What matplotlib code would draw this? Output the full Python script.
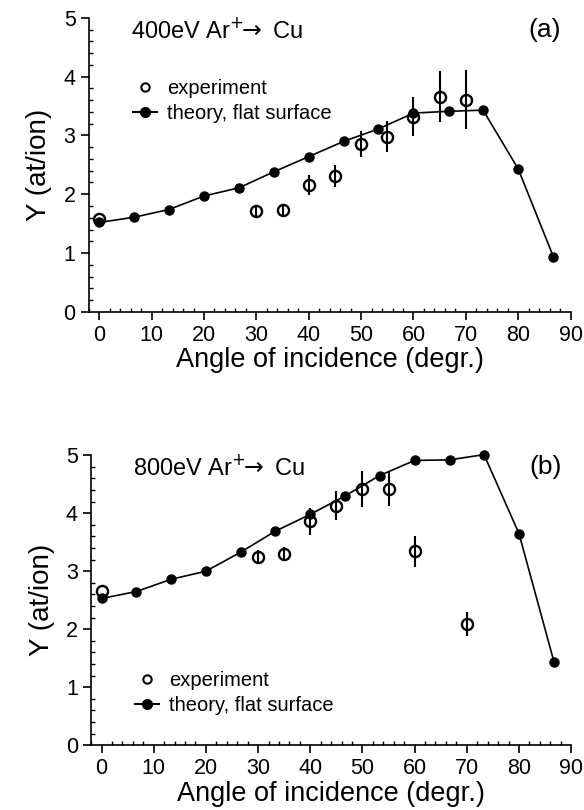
import matplotlib
matplotlib.use("Agg")
import matplotlib.pyplot as plt
from matplotlib.lines import Line2D
from matplotlib.ticker import MultipleLocator

plt.rcParams['font.family'] = ['Liberation Sans', 'DejaVu Sans']
plt.rcParams['mathtext.fontset'] = 'dejavusans'

# theory, flat surface (same angles for both energies)
theory_angle = [0, 6.7, 13.3, 20, 26.7, 33.3, 40, 46.7, 53.3, 60, 66.7, 73.3, 80, 86.7]
theory_400 = [1.52, 1.61, 1.74, 1.97, 2.11, 2.38, 2.64, 2.90, 3.11, 3.38, 3.41, 3.43, 2.43, 0.94]
theory_800 = [2.53, 2.65, 2.86, 3.00, 3.33, 3.69, 3.98, 4.30, 4.65, 4.91, 4.92, 5.01, 3.65, 1.44]

# experiment
exp_angle_400 = [0, 30, 35, 40, 45, 50, 55, 60, 65, 70]
exp_400 = [1.58, 1.72, 1.74, 2.15, 2.31, 2.85, 2.98, 3.32, 3.66, 3.61]
err_400 = [0, 0.10, 0.10, 0.17, 0.18, 0.22, 0.26, 0.33, 0.44, 0.50]

exp_angle_800 = [0, 30, 35, 40, 45, 50, 55, 60, 70]
exp_800 = [2.66, 3.25, 3.30, 3.86, 4.13, 4.42, 4.42, 3.34, 2.09]
err_800 = [0, 0.12, 0.12, 0.23, 0.25, 0.31, 0.30, 0.27, 0.20]

fig = plt.figure(figsize=(5.84, 8.10), dpi=100)
ax_a = fig.add_axes([0.152, 0.615, 0.825, 0.363])
ax_b = fig.add_axes([0.156, 0.080, 0.822, 0.358])

panels = [
    (ax_a, theory_400, exp_angle_400, exp_400, err_400, r"400eV Ar$^{+}\!\!\rightarrow$ Cu", "(a)", 0.82),
    (ax_b, theory_800, exp_angle_800, exp_800, err_800, r"800eV Ar$^{+}\!\!\rightarrow$ Cu", "(b)", 0.285),
]

for ax, theo, ex_x, ex_y, ex_err, title, tag, leg_y in panels:
    ax.plot(theory_angle, theo, color='black', lw=1.2, marker='o', ms=6.5,
            mfc='black', mec='black', clip_on=False, zorder=3)
    ax.errorbar(ex_x, ex_y, yerr=ex_err, fmt='o', ms=8, mfc='none', mec='black',
                mew=1.7, ecolor='black', elinewidth=1.5, capsize=0, clip_on=False, zorder=4)

    ax.set_xlim(-2, 90)
    ax.set_ylim(0, 5)
    ax.spines['top'].set_visible(False)
    ax.spines['right'].set_visible(False)
    ax.spines['left'].set_linewidth(1.2)
    ax.spines['bottom'].set_linewidth(1.2)
    ax.xaxis.set_major_locator(MultipleLocator(10))
    ax.xaxis.set_minor_locator(MultipleLocator(2))
    ax.yaxis.set_major_locator(MultipleLocator(1))
    ax.yaxis.set_minor_locator(MultipleLocator(0.2))
    ax.tick_params(which='major', direction='out', length=6, width=1.2, labelsize=15.5)
    ax.tick_params(which='minor', direction='in', length=3, width=1.0)

    ax.set_ylabel("Y (at/ion)", fontsize=20, labelpad=8)
    ax.set_xlabel("Angle of incidence (degr.)", fontsize=19.5, labelpad=1)

    ax.text(0.088, 0.958, title, transform=ax.transAxes, fontsize=17,
            ha='left', va='center')
    ax.text(0.98, 0.958, tag, transform=ax.transAxes, fontsize=19,
            ha='right', va='center')

    handles = [
        Line2D([], [], ls='none', marker='o', ms=6, mfc='none', mec='black', mew=1.5),
        Line2D([], [], color='black', lw=1.5, marker='o', ms=7, mfc='black', mec='black'),
    ]
    ax.legend(handles, ["experiment", "theory, flat surface"], loc='upper left',
              bbox_to_anchor=(0.075, leg_y), frameon=False, fontsize=14.5,
              handlelength=1.2, handletextpad=0.5, labelspacing=0.3, borderaxespad=0)

fig.savefig("out.png", dpi=100)
